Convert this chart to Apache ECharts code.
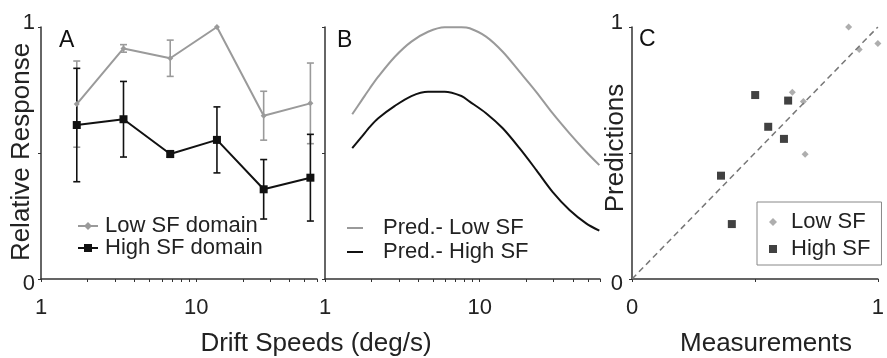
<!DOCTYPE html>
<html>
<head>
<meta charset="utf-8">
<script src="https://cdn.jsdelivr.net/npm/echarts@6/dist/echarts.min.js"></script>
<style>
html,body{margin:0;padding:0;background:#fff;}
#c{width:887px;height:358px;}
</style>
</head>
<body>
<div id="c"></div>
<script>
// Panel A: measured responses
const speeds = [1.7, 3.4, 6.8, 13.6, 27.2, 54.4];
const lowMean = [0.694, 0.915, 0.876, 1.0, 0.648, 0.697];
const lowErr = [0.171, 0.015, 0.072, 0, 0.097, 0.16];
const highMean = [0.611, 0.634, 0.496, 0.552, 0.356, 0.402];
const highErr = [0.225, 0.15, 0.013, 0.131, 0.118, 0.172];

// Panel B: predicted tuning curves
const predSpeeds = [1.5, 1.73, 1.95, 2.21, 2.83, 3.62, 4.64, 5.94, 7.62, 8.62, 11.0, 14.1, 18.1, 23.2, 29.6, 38.1, 48.8, 59.4];
const predLow = [0.654, 0.710, 0.757, 0.803, 0.882, 0.942, 0.981, 0.999, 0.999, 0.995, 0.962, 0.902, 0.823, 0.743, 0.658, 0.578, 0.505, 0.452];
const predHigh = [0.519, 0.565, 0.604, 0.638, 0.687, 0.726, 0.743, 0.743, 0.726, 0.704, 0.658, 0.598, 0.519, 0.433, 0.346, 0.274, 0.221, 0.192];

// Panel C: measurements vs predictions
const lowMeas = [0.881, 0.924, 1.0, 0.652, 0.697, 0.704];
const lowPred = [1.0, 0.911, 0.935, 0.741, 0.704, 0.495];
const highMeas = [0.501, 0.635, 0.554, 0.618, 0.362, 0.406];
const highPred = [0.730, 0.708, 0.604, 0.556, 0.41, 0.218];
const diag = [0, 1];

// Tick labels
const logTickLabels = [1, 10];
const logMinorTicks = [1, 2, 3, 4, 5, 6, 7, 8, 9, 10, 20, 30, 40, 50, 60];

const FONT = 'Liberation Sans, Arial, sans-serif';
const GRAY = '#9a9a9a';
const BLACK = '#111111';
const AXIS = '#333333';

const chart = echarts.init(document.getElementById('c'));

function errSeries(color, means, errs) {
  return {
    type: 'custom',
    xAxisIndex: 0, yAxisIndex: 0,
    silent: true,
    z: 1,
    data: speeds.map((s, i) => [s, means[i], errs[i]]),
    encode: {x: 0, y: 1},
    renderItem: function (params, api) {
      const x = api.value(0), m = api.value(1), e = api.value(2);
      if (!e) return null;
      const top = api.coord([x, m + e]);
      const bot = api.coord([x, m - e]);
      const w = 3.5;
      const st = {stroke: color, lineWidth: 1.6};
      return {
        type: 'group',
        children: [
          {type: 'line', shape: {x1: top[0], y1: top[1], x2: bot[0], y2: bot[1]}, style: st},
          {type: 'line', shape: {x1: top[0] - w, y1: top[1], x2: top[0] + w, y2: top[1]}, style: st},
          {type: 'line', shape: {x1: bot[0] - w, y1: bot[1], x2: bot[0] + w, y2: bot[1]}, style: st}
        ]
      };
    }
  };
}

function yLabelFmt(v) {
  if (v === 1) return '{t|1}';
  if (v === 0) return '{b|0}';
  return '';
}
const yRich = {
  t: {fontSize: 22, fontFamily: FONT, color: '#222', padding: [0, 0, 8, 0]},
  b: {fontSize: 22, fontFamily: FONT, color: '#222', padding: [10, 0, 0, 0]}
};

function logX(gridIndex) {
  return {
    type: 'log', logBase: 10, gridIndex: gridIndex,
    min: 1, max: 60,
    axisLine: {show: true, onZero: false, lineStyle: {color: AXIS, width: 1.5}},
    axisTick: {show: true, customValues: logMinorTicks, length: 3, lineStyle: {color: AXIS, width: 1}},
    axisLabel: {show: true, customValues: logTickLabels, fontSize: 22, fontFamily: FONT, color: '#222', margin: 18,
      formatter: function (v) { return (Math.abs(v - 1) < 1e-6) ? '1' : (Math.abs(v - 10) < 1e-6 ? '10' : ''); }},
    splitLine: {show: false},
    minorTick: {show: false}
  };
}

function unitY(gridIndex, showLabels, margin) {
  return {
    type: 'value', gridIndex: gridIndex, min: 0, max: 1, interval: 0.5,
    axisLine: {show: true, lineStyle: {color: AXIS, width: 1.5}},
    axisTick: {show: true, length: 3, lineStyle: {color: AXIS, width: 1}},
    axisLabel: {show: showLabels, formatter: yLabelFmt, rich: yRich, margin: margin},
    splitLine: {show: false}
  };
}

const option = {
  animation: false,
  backgroundColor: '#ffffff',
  grid: [
    {left: 41, top: 27, width: 276, height: 252},
    {left: 325, top: 27, width: 275, height: 252},
    {left: 632, top: 27, width: 255, height: 252}
  ],
  xAxis: [
    logX(0),
    logX(1),
    {
      type: 'value', gridIndex: 2, min: 0, max: 1, interval: 0.5,
      axisLine: {show: true, onZero: false, lineStyle: {color: AXIS, width: 1.5}},
      axisTick: {show: true, length: 3, lineStyle: {color: AXIS, width: 1}},
      axisLabel: {fontSize: 22, fontFamily: FONT, color: '#222', margin: 18,
        formatter: function (v) { return v === 0 ? '0' : (v === 1 ? '1' : ''); }},
      splitLine: {show: false}
    }
  ],
  yAxis: [
    unitY(0, true, 6),
    unitY(1, false, 6),
    unitY(2, true, 9)
  ],
  legend: [
    {
      left: 77, top: 215, orient: 'vertical', itemWidth: 20, itemHeight: 10, itemGap: 0,
      selectedMode: false, padding: 0,
      data: ['Low SF domain', 'High SF domain'],
      formatter: function (n) { return '{t|' + n + '}'; },
      textStyle: {fontSize: 22, fontFamily: FONT, color: '#222', lineHeight: 22,
        rich: {t: {fontSize: 22, fontFamily: FONT, color: '#222', padding: [0, 0, 0, 2]}}}
    },
    {
      left: 347, top: 217, orient: 'vertical', itemWidth: 16, itemHeight: 2, itemGap: 2,
      selectedMode: false, padding: 0,
      data: [{name: 'Pred.- Low SF', icon: 'rect'}, {name: 'Pred.- High SF', icon: 'rect'}],
      formatter: function (n) { return '{t|' + n + '}'; },
      textStyle: {fontSize: 22, fontFamily: FONT, color: '#222', lineHeight: 22,
        rich: {t: {fontSize: 22, fontFamily: FONT, color: '#222', padding: [0, 0, 0, 15]}}}
    },
    {
      left: 757, top: 202, orient: 'vertical', itemWidth: 8, itemHeight: 8, itemGap: 5,
      selectedMode: false, padding: [9, 11, 5, 12],
      borderColor: '#888', borderWidth: 1,
      data: [{name: 'Low SF', icon: 'diamond'}, {name: 'High SF', icon: 'rect'}],
      formatter: function (n) { return '{t|' + n + '}'; },
      textStyle: {fontSize: 22, fontFamily: FONT, color: '#222', lineHeight: 22,
        rich: {t: {fontSize: 22, fontFamily: FONT, color: '#222', padding: [0, 0, 0, 9]}}}
    }
  ],
  graphic: [
    {type: 'text', x: 59, y: 41, style: {text: 'A', fontSize: 23, fontFamily: FONT, fill: '#111', align: 'left', verticalAlign: 'middle'}},
    {type: 'text', x: 337, y: 41, style: {text: 'B', fontSize: 23, fontFamily: FONT, fill: '#111', align: 'left', verticalAlign: 'middle'}},
    {type: 'text', x: 639, y: 40, style: {text: 'C', fontSize: 23, fontFamily: FONT, fill: '#111', align: 'left', verticalAlign: 'middle'}},
    {type: 'text', x: 22, y: 152, rotation: Math.PI / 2, style: {text: 'Relative Response', fontSize: 26, fontFamily: FONT, fill: '#222', align: 'center', verticalAlign: 'middle'}},
    {type: 'text', x: 616, y: 148, rotation: Math.PI / 2, style: {text: 'Predictions', fontSize: 26, fontFamily: FONT, fill: '#222', align: 'center', verticalAlign: 'middle'}},
    {type: 'text', x: 316, y: 344, style: {text: 'Drift Speeds (deg/s)', fontSize: 26, fontFamily: FONT, fill: '#222', align: 'center', verticalAlign: 'middle'}},
    {type: 'text', x: 766, y: 344, style: {text: 'Measurements', fontSize: 26, fontFamily: FONT, fill: '#222', align: 'center', verticalAlign: 'middle'}}
  ],
  series: [
    errSeries(GRAY, lowMean, lowErr),
    {
      name: 'Low SF domain', type: 'line', xAxisIndex: 0, yAxisIndex: 0, z: 2,
      data: speeds.map((s, i) => [s, lowMean[i]]),
      symbol: 'diamond', symbolSize: 6,
      lineStyle: {color: GRAY, width: 2}, itemStyle: {color: GRAY}
    },
    errSeries(BLACK, highMean, highErr),
    {
      name: 'High SF domain', type: 'line', xAxisIndex: 0, yAxisIndex: 0, z: 3,
      data: speeds.map((s, i) => [s, highMean[i]]),
      symbol: 'rect', symbolSize: 8,
      lineStyle: {color: BLACK, width: 2}, itemStyle: {color: BLACK}
    },
    {
      name: 'Pred.- Low SF', type: 'line', xAxisIndex: 1, yAxisIndex: 1,
      data: predSpeeds.map((s, i) => [s, predLow[i]]),
      symbol: 'none', smooth: 0.3,
      lineStyle: {color: GRAY, width: 2}, itemStyle: {color: GRAY}
    },
    {
      name: 'Pred.- High SF', type: 'line', xAxisIndex: 1, yAxisIndex: 1,
      data: predSpeeds.map((s, i) => [s, predHigh[i]]),
      symbol: 'none', smooth: 0.3,
      lineStyle: {color: BLACK, width: 2}, itemStyle: {color: BLACK}
    },
    {
      type: 'line', xAxisIndex: 2, yAxisIndex: 2, silent: true,
      data: diag.map(v => [v, v]), symbol: 'none',
      lineStyle: {color: '#777', width: 1.5, type: [6, 4]}
    },
    {
      name: 'Low SF', type: 'scatter', xAxisIndex: 2, yAxisIndex: 2, clip: false,
      data: lowMeas.map((m, i) => [m, lowPred[i]]),
      symbol: 'diamond', symbolSize: 7, itemStyle: {color: GRAY}
    },
    {
      name: 'High SF', type: 'scatter', xAxisIndex: 2, yAxisIndex: 2, clip: false,
      data: highMeas.map((m, i) => [m, highPred[i]]),
      symbol: 'rect', symbolSize: 8, itemStyle: {color: BLACK}
    }
  ]
};
chart.setOption(option);
</script>
</body>
</html>
